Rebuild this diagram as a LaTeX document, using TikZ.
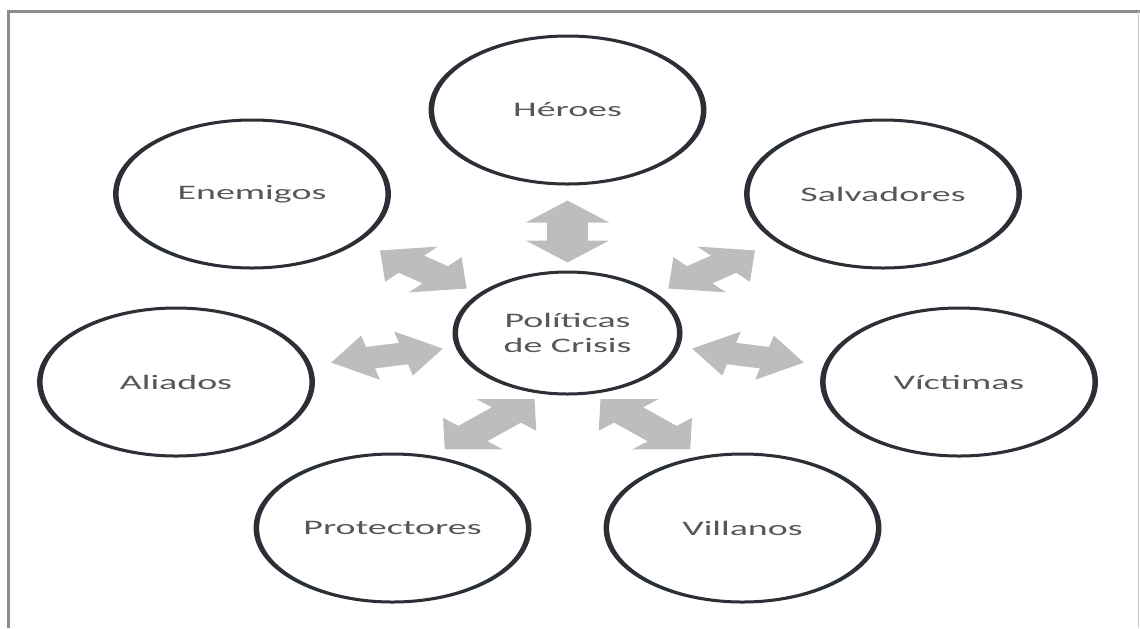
\documentclass[tikz,border=0pt]{standalone}
\usepackage{fontspec}
\setmainfont{Carlito}
\usetikzlibrary{arrows.meta}
\definecolor{ringline}{HTML}{2B2F36}
\definecolor{labeltext}{HTML}{575757}
\definecolor{arrowfill}{HTML}{BDBDBD}
\definecolor{framegray}{HTML}{8C8C8C}
\tikzset{
  role/.style={circle,draw=ringline,line width=1.5pt,fill=white,minimum size=74pt,
    inner sep=0pt,text=labeltext,font=\fontsize{10.3}{12.8}\selectfont,align=center},
  hub/.style={role,minimum size=61pt},
  link/.style={arrowfill,line width=11pt,
    {Triangle[length=11pt,width=22pt]}-{Triangle[length=11pt,width=22pt]}},
}

\begin{document}
\begin{tikzpicture}[x=0.5pt,y=-0.5pt]
  \useasboundingbox (0,0) rectangle (1140,628);
  \draw[framegray,line width=1.5pt] (8,628) -- (8,11) -- (1140,11);
  \draw[framegray!45,line width=0.8pt] (1138.5,11) -- (1138.5,628);
  % the whole diagram is stretched sideways
  \begin{scope}[transform canvas={xscale=1.84},x=0.27174pt]
    \node[role] (heroes) at (567.5,110) {Héroes};
    \node[role] (enemigos) at (252,194) {Enemigos};
    \node[role] (salvadores) at (883,194) {Salvadores};
    \node[role] (aliados) at (176,382) {Aliados};
    \node[hub] (crisis) at (567.5,333) {Políticas\\de Crisis};
    \node[role] (victimas) at (959,382) {Víctimas};
    \node[role] (protectores) at (392.5,528) {Protectores};
    \node[role] (villanos) at (742.5,528) {Villanos};
    \draw[link,shorten <=4pt,shorten >=7.5pt] (crisis) -- (heroes);
    \draw[link,shorten <=4pt,shorten >=7pt] (crisis) -- (enemigos);
    \draw[link,shorten <=4pt,shorten >=7pt] (crisis) -- (salvadores);
    \draw[link,shorten <=3.5pt,shorten >=5.5pt] (crisis) -- (aliados);
    \draw[link,shorten <=3.5pt,shorten >=5.5pt] (crisis) -- (victimas);
    \draw[link,shorten <=3.5pt,shorten >=4.5pt] (crisis.-102) -- (protectores.73);
    \draw[link,shorten <=3.5pt,shorten >=4.5pt] (crisis.-78) -- (villanos.107);
  \end{scope}
\end{tikzpicture}
\end{document}
